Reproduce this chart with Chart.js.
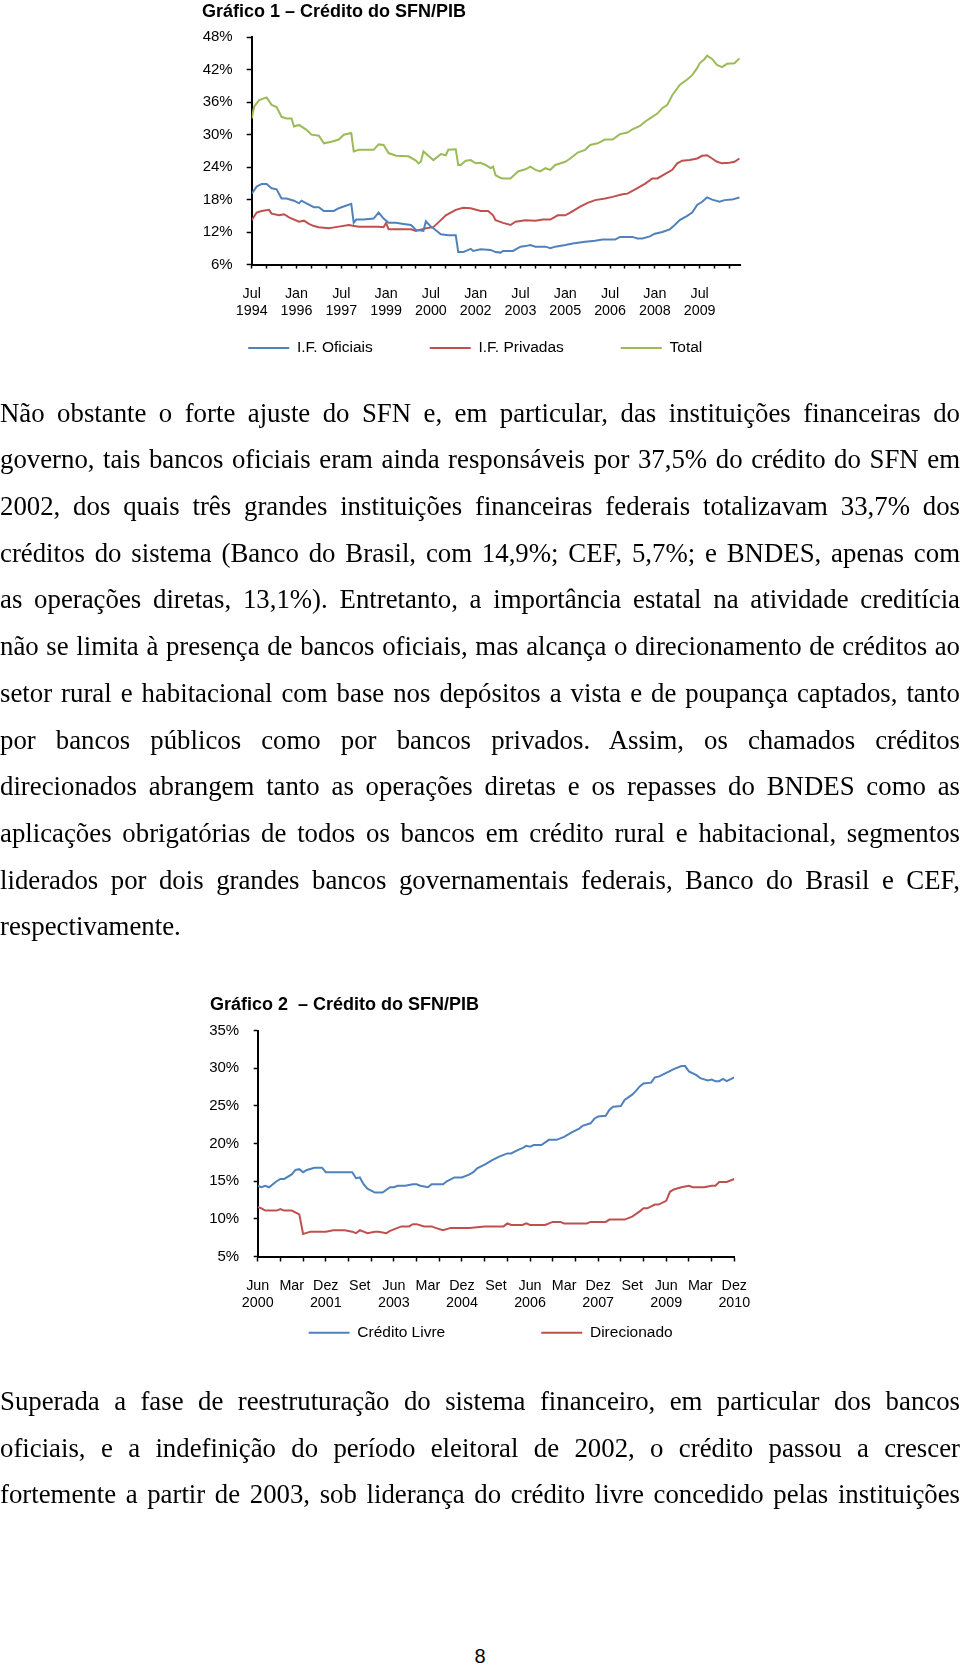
<!DOCTYPE html>
<html>
<head>
<meta charset="utf-8">
<script src="https://cdn.jsdelivr.net/npm/chart.js@4.4.0/dist/chart.umd.min.js"></script>
<style>
html,body{margin:0;padding:0;background:#fff;}
body{width:960px;height:1665px;position:relative;overflow:hidden;}
canvas{position:absolute;left:0;}
.ln{position:absolute;left:0;width:960px;font-family:"Liberation Serif","Times New Roman",serif;font-size:26.8px;line-height:46.7px;color:#000;text-align:justify;text-align-last:justify;}
.last{text-align:left;text-align-last:left;}
#pg{position:absolute;left:0;width:960px;top:1645px;text-align:center;font-family:"Liberation Sans",Arial,sans-serif;font-size:20px;line-height:22px;color:#000;}
</style>
</head>
<body>
<canvas id="c1" width="960" height="405" style="top:0px"></canvas>
<canvas id="c2" width="960" height="446" style="top:990px"></canvas>
<div id="pg">8</div>
<script>
// ---------- Chart 1 data (months since Jul 1994) ----------
const title1 = 'Gráfico 1 – Crédito do SFN/PIB';
const ticks1 = [0,6,12,18,24,30,36,42,48,54,60,66,72,78,84,90,96,102,108,114,120,126,132,138,144,150,156,162,168,174,180,186,192];
const labels1 = [['Jul','1994'],['Jan','1996'],['Jul','1997'],['Jan','1999'],['Jul','2000'],['Jan','2002'],['Jul','2003'],['Jan','2005'],['Jul','2006'],['Jan','2008'],['Jul','2009']];
const yTicks1 = [6,12,18,24,30,36,42,48];

const oficiaisX = [0,2,4,6,8,10,12,14,17,19,20,22,25,27,29,33,35,40,41,42,45,49,51,53,55,58,61,64,66,69,70,72,73,76,79,82,83,85,88,89,92,96,98,100,101,105,108,110,112,114,118,120,122,126,129,134,138,141,146,148,153,155,157,160,162,165,168,170,172,175,177,179,181,183,185,188,190,193,196];
const oficiaisY = [19.1,20.4,20.9,20.9,20.1,19.9,18.2,18.2,17.8,17.3,17.8,17.3,16.6,16.6,15.9,15.9,16.4,17.2,13.7,14.3,14.3,14.5,15.6,14.5,13.7,13.7,13.5,13.3,12.4,12.2,14.0,13.0,12.7,11.6,11.4,11.4,8.3,8.3,8.9,8.5,8.8,8.7,8.3,8.2,8.5,8.5,9.3,9.4,9.6,9.3,9.3,9.0,9.3,9.6,9.9,10.2,10.4,10.6,10.6,11.1,11.1,10.8,10.8,11.2,11.7,12.0,12.5,13.3,14.2,15.0,15.6,17.0,17.6,18.4,18.0,17.6,17.9,18.0,18.4];

const privadasX = [0,2,4,7,8,11,13,15,19,21,23,25,27,31,35,39,43,47,51,53,54,55,60,64,66,70,73,76,78,82,85,88,92,95,97,98,101,104,106,110,114,117,120,123,126,128,132,135,138,142,145,149,151,155,158,161,163,166,169,171,173,176,179,181,183,185,187,189,192,194,196];
const privadasY = [14.2,15.6,15.9,16.1,15.4,15.1,15.3,14.7,13.9,14.1,13.5,13.1,12.9,12.7,13.0,13.3,13.0,13.0,13.0,12.9,13.7,12.5,12.5,12.5,12.2,12.7,12.9,14.2,15.1,16.1,16.5,16.4,15.9,15.9,15.1,14.2,13.7,13.3,13.9,14.2,14.1,14.3,14.3,15.1,15.1,15.6,16.7,17.4,17.9,18.2,18.5,19.0,19.1,20.1,20.9,21.9,21.9,22.7,23.5,24.7,25.2,25.3,25.6,26.1,26.2,25.6,25.0,24.7,24.8,25.0,25.6];

const totalX = [0,1,3,6,8,10,12,14,16,17,19,22,24,27,29,32,35,37,40,41,43,49,51,53,55,58,63,66,67,68,69,71,73,76,78,79,82,83,84,86,88,90,92,94,96,97,98,100,101,104,107,110,112,114,116,118,120,122,126,128,131,134,136,139,142,145,148,151,153,156,158,161,163,165,167,169,172,175,177,179,180,182,183,185,187,189,191,194,196];
const totalY = [33.0,35.2,36.4,36.9,35.5,35.1,33.3,33.0,33.0,31.5,31.8,30.9,30.0,29.8,28.4,28.7,29.1,30.0,30.3,26.9,27.2,27.2,28.2,28.1,26.6,26.1,26.0,25.2,24.7,25.0,26.9,26.1,25.3,26.4,26.2,27.2,27.3,24.4,24.4,25.2,25.3,24.7,24.8,24.4,23.8,24.1,22.5,22.0,21.9,21.9,23.2,23.6,24.1,23.5,23.2,23.8,23.5,24.4,25.0,25.6,26.7,27.2,28.1,28.4,29.1,29.1,30.1,30.4,31.0,31.6,32.4,33.3,33.9,34.9,35.5,37.3,39.2,40.2,41.0,42.3,43.2,44.0,44.6,44.0,42.9,42.5,43.1,43.2,44.1];

// ---------- Chart 2 data (months since Jun 2000) ----------
const title2 = 'Gráfico 2  – Crédito do SFN/PIB';
const ticks2 = [0,3,6,9,12,15,18,21,24,27,30,33,36,39,42,45,48,51,54,57,60,63,66,69,72,75,78,81,84,87,90,93,96,99,102,105,108,111,114,117,120,123,126];
const labels2 = [['Jun','2000'],['Mar'],['Dez','2001'],['Set'],['Jun','2003'],['Mar'],['Dez','2004'],['Set'],['Jun','2006'],['Mar'],['Dez','2007'],['Set'],['Jun','2009'],['Mar'],['Dez','2010']];
const yTicks2 = [5,10,15,20,25,30,35];

const livreX = [0,1,2,3,5,6,7,9,10,11,12,13,15,17,18,25,26,27,28,29,31,33,35,36,37,39,41,42,43,45,46,49,50,52,54,56,57,58,60,62,64,66,67,69,70,71,72,73,75,77,79,81,83,85,86,88,89,90,92,93,94,96,97,99,100,101,102,104,105,106,108,110,112,113,114,116,117,119,120,121,122,123,124,126];
const livreY = [14.4,14.2,14.4,14.2,15.0,15.3,15.3,15.9,16.5,16.6,16.2,16.5,16.8,16.8,16.2,16.2,15.4,15.5,14.6,14.0,13.5,13.5,14.2,14.2,14.4,14.4,14.6,14.6,14.4,14.2,14.6,14.6,15.0,15.5,15.5,15.9,16.2,16.7,17.2,17.8,18.3,18.7,18.7,19.2,19.4,19.7,19.6,19.8,19.8,20.5,20.5,20.9,21.5,22.0,22.4,22.7,23.3,23.6,23.7,24.5,24.9,25.0,25.8,26.5,27.0,27.6,28.0,28.1,28.8,28.9,29.4,29.9,30.3,30.3,29.6,29.1,28.7,28.4,28.5,28.3,28.3,28.6,28.3,28.8];

const direcX = [0,1,2,5,6,7,9,11,12,14,18,20,23,25,26,27,29,31,32,34,35,37,38,40,41,42,44,46,47,49,51,56,60,65,66,67,70,71,72,76,78,80,81,87,88,92,93,97,99,101,102,103,105,106,108,109,110,112,114,115,118,120,121,122,124,126];
const direcY = [11.6,11.4,11.1,11.1,11.3,11.1,11.1,10.6,8.0,8.3,8.3,8.5,8.5,8.3,8.1,8.5,8.1,8.3,8.3,8.1,8.4,8.8,9.0,9.0,9.3,9.3,9.0,9.0,8.8,8.5,8.8,8.8,9.0,9.0,9.4,9.2,9.2,9.4,9.2,9.2,9.6,9.6,9.4,9.4,9.6,9.6,9.9,9.9,10.3,11.0,11.4,11.4,11.9,11.9,12.4,13.6,13.9,14.2,14.4,14.2,14.2,14.4,14.4,14.9,14.9,15.3];

// ---------- Text ----------
const para1 = [
 'Não obstante o forte ajuste do SFN e, em particular, das instituições financeiras do',
 'governo, tais bancos oficiais eram ainda responsáveis por 37,5% do crédito do SFN em',
 '2002, dos quais três grandes instituições financeiras federais totalizavam 33,7% dos',
 'créditos do sistema (Banco do Brasil, com 14,9%; CEF, 5,7%; e BNDES, apenas com',
 'as operações diretas, 13,1%). Entretanto, a importância estatal na atividade creditícia',
 'não se limita à presença de bancos oficiais, mas alcança o direcionamento de créditos ao',
 'setor rural e habitacional com base nos depósitos a vista e de poupança captados, tanto',
 'por bancos públicos como por bancos privados. Assim, os chamados créditos',
 'direcionados abrangem tanto as operações diretas e os repasses do BNDES como as',
 'aplicações obrigatórias de todos os bancos em crédito rural e habitacional, segmentos',
 'liderados por dois grandes bancos governamentais federais, Banco do Brasil e CEF,',
 'respectivamente.'
];
const para2 = [
 'Superada a fase de reestruturação do sistema financeiro, em particular dos bancos',
 'oficiais, e a indefinição do período eleitoral de 2002, o crédito passou a crescer',
 'fortemente a partir de 2003, sob liderança do crédito livre concedido pelas instituições'
];

const LH = 46.7;
function addLines(lines, top, lastLeft) {
  lines.forEach((t, i) => {
    const d = document.createElement('div');
    d.className = 'ln' + (lastLeft && i === lines.length - 1 ? ' last' : '');
    d.style.top = (top + i * LH) + 'px';
    d.textContent = t;
    document.body.appendChild(d);
    let ws = 0;
    while (d.offsetHeight > LH * 1.5 && ws > -6) { ws -= 0.25; d.style.wordSpacing = ws + 'px'; }
  });
}
addLines(para1, 389.6, true);
addLines(para2, 1378, false);

// ---------- Charts ----------
const BLUE = '#4F81BD', RED = '#C0504D', GREEN = '#9BBB59';
const FONT = '"Liberation Sans", Arial, Helvetica, sans-serif';
Chart.defaults.font.family = FONT;
Chart.defaults.color = '#000';

const pts = (xs, ys) => xs.map((x, i) => ({x: x, y: ys[i]}));

// positions the title and legend boxes after Chart.js has laid out the chart
const placeBoxes = {
  id: 'placeBoxes',
  afterLayout(chart, args, o) {
    if (chart.titleBlock && o.titleLeft != null) chart.titleBlock.left = o.titleLeft;
    if (chart.legend && o.legendLeft != null) {
      chart.legend.left = o.legendLeft;
      chart.legend.right = chart.width;
      chart.legend.top = o.legendTop;
      chart.legend.bottom = chart.height;
    }
  }
};

function lineDs(label, xs, ys, color) {
  return {label: label, data: pts(xs, ys), borderColor: color, backgroundColor: color,
          borderWidth: 2, pointRadius: 0, tension: 0, fill: false};
}

function axisX(opt) {
  return {
    type: 'linear', min: opt.min, max: opt.max,
    afterBuildTicks: s => { s.ticks = opt.ticks.map(v => ({value: v})); },
    afterFit: s => { s.height = opt.height; },
    border: {display: true, color: '#000', width: 2},
    grid: {display: true, drawOnChartArea: false, drawTicks: true, tickLength: opt.tickLength,
           tickColor: opt.tickColor, tickWidth: 1.5},
    ticks: {autoSkip: false, maxRotation: 0, minRotation: 0, padding: opt.padding,
            font: {size: 14.3}, color: '#000', callback: opt.callback}
  };
}
function axisY(opt) {
  return {
    min: opt.min, max: opt.max,
    afterBuildTicks: s => { s.ticks = opt.ticks.map(v => ({value: v})); },
    afterFit: s => { s.width = opt.width; },
    border: {display: true, color: '#000', width: 2},
    grid: {display: true, drawOnChartArea: false, drawTicks: true, tickLength: opt.tickLength,
           tickColor: '#000', tickWidth: 1.5},
    ticks: {padding: opt.padding, font: {size: 15}, color: '#000', callback: v => v + '%'}
  };
}

new Chart(document.getElementById('c1'), {
  type: 'line',
  data: {datasets: [
    lineDs('I.F. Oficiais', oficiaisX, oficiaisY, BLUE),
    lineDs('I.F. Privadas', privadasX, privadasY, RED),
    lineDs('Total', totalX, totalY, GREEN)
  ]},
  options: {
    responsive: false, animation: false, devicePixelRatio: 1,
    layout: {padding: {left: 150, right: 219.3, top: 0, bottom: 0}},
    scales: {
      x: axisX({min: 0, max: 196.5, ticks: ticks1, height: 58, tickLength: 4, tickColor: '#000', padding: 17.2,
                callback: v => (v % 18 === 0 && labels1[v / 18]) ? labels1[v / 18] : ''}),
      y: axisY({min: 6, max: 48, ticks: yTicks1, width: 101.7, tickLength: 5, padding: 14})
    },
    plugins: {
      title: {display: true, text: title1, align: 'start', color: '#000',
              font: {size: 18, weight: 'bold'}, padding: {top: 1, bottom: 14.7}},
      legend: {display: true, position: 'bottom', align: 'start',
               labels: {usePointStyle: true, pointStyle: 'line', pointStyleWidth: 41, padding: 57,
                        font: {size: 15.5}, color: '#000'}},
      tooltip: {enabled: false},
      placeBoxes: {titleLeft: 202, legendLeft: 191.2, legendTop: 283.25}
    }
  },
  plugins: [placeBoxes]
});

new Chart(document.getElementById('c2'), {
  type: 'line',
  data: {datasets: [
    lineDs('Crédito Livre', livreX, livreY, BLUE),
    lineDs('Direcionado', direcX, direcY, RED)
  ]},
  options: {
    responsive: false, animation: false, devicePixelRatio: 1,
    layout: {padding: {left: 150, right: 225.7, top: 0, bottom: 0}},
    scales: {
      x: axisX({min: 0, max: 126, ticks: ticks2, height: 58, tickLength: 5, padding: 15.6,
                tickColor: ctx => (ctx.tick && ctx.tick.value % 6 === 0) ? '#000' : 'rgba(0,0,0,0)',
                callback: v => (v % 9 === 0 && labels2[v / 9]) ? labels2[v / 9] : ''}),
      y: axisY({min: 5, max: 35, ticks: yTicks2, width: 107.7, tickLength: 4, padding: 14.5})
    },
    plugins: {
      title: {display: true, text: title2, align: 'start', color: '#000',
              font: {size: 18, weight: 'bold'}, padding: {top: 3.8, bottom: 15.3}},
      legend: {display: true, position: 'bottom', align: 'start',
               labels: {usePointStyle: true, pointStyle: 'line', pointStyleWidth: 41, padding: 96,
                        font: {size: 15.5}, color: '#000'}},
      tooltip: {enabled: false},
      placeBoxes: {titleLeft: 210, legendLeft: 212.6, legendTop: 238.95}
    }
  },
  plugins: [placeBoxes]
});
</script>
</body>
</html>
